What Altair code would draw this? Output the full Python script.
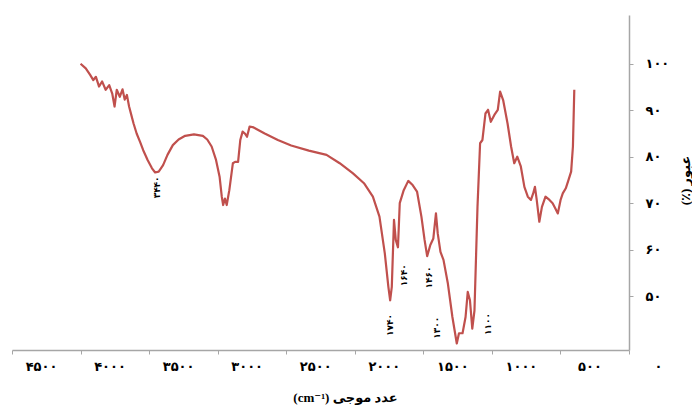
import altair as alt
import pandas as pd

# FT-IR transmittance spectrum (wavenumber in cm^-1, transmittance in %)
wavenumber = [
    4000, 3962, 3930, 3907, 3888, 3865, 3843, 3817, 3791, 3769, 3752, 3736,
    3714, 3694, 3678, 3662, 3646, 3630, 3614, 3591, 3566, 3543, 3511, 3479,
    3456, 3430, 3398, 3366, 3327, 3285, 3237, 3173, 3108, 3076, 3044, 3012,
    2986, 2970, 2960, 2947, 2934, 2915, 2889, 2873, 2851, 2835, 2818, 2802,
    2786, 2767, 2738, 2657, 2561, 2464, 2335, 2206, 2110, 2013, 1933, 1868,
    1820, 1781, 1755, 1742, 1730, 1714, 1701, 1685, 1672, 1643, 1610, 1578,
    1546, 1514, 1491, 1472, 1449, 1427, 1408, 1395, 1375, 1353, 1321, 1288,
    1256, 1240, 1214, 1192, 1176, 1160, 1143, 1127, 1105, 1086, 1069, 1047,
    1028, 1008, 982, 957, 940, 918, 886, 860, 837, 815, 789, 763,
    738, 715, 699, 686, 673, 654, 635, 609, 580, 557, 538, 519,
    499, 483, 461, 441, 422, 409, 399,
]
transmittance = [
    100.0, 99.0, 97.6, 96.5, 97.2, 95.1, 96.2, 94.4, 95.4, 93.6, 90.8, 94.4,
    92.9, 94.5, 92.3, 93.3, 90.8, 89.0, 87.2, 85.0, 83.2, 81.4, 79.3, 77.5,
    76.6, 76.8, 78.2, 80.4, 82.5, 83.7, 84.5, 84.8, 84.5, 83.7, 82.2, 79.3,
    75.7, 71.4, 69.6, 71.0, 69.6, 72.8, 78.6, 78.9, 78.9, 83.6, 85.4, 85.0,
    84.3, 86.5, 86.3, 85.0, 83.6, 82.4, 81.3, 80.4, 78.6, 76.4, 74.3, 71.4,
    67.1, 59.2, 52.0, 49.1, 52.0, 66.4, 62.1, 60.5, 70.0, 72.8, 74.8, 73.9,
    72.5, 67.1, 62.1, 58.6, 61.0, 62.4, 67.8, 63.5, 59.5, 57.8, 52.7, 45.5,
    39.8, 42.0, 42.0, 45.5, 50.9, 49.1, 43.0, 46.9, 69.2, 82.9, 83.6, 89.3,
    90.1, 87.5, 89.0, 90.1, 94.0, 92.2, 87.2, 82.2, 78.6, 80.0, 77.9, 73.5,
    71.4, 70.7, 72.1, 73.5, 70.7, 66.0, 69.2, 71.4, 70.7, 70.0, 68.9, 67.8,
    70.7, 72.1, 73.2, 75.0, 76.8, 82.2, 94.4,
]

# Annotated absorption bands and the transmittance level where each label sits
peak_wavenumbers = [3440, 1740, 1640, 1460, 1300, 1100]
peak_label_levels = [73.4, 43.8, 54.5, 54.0, 43.2, 44.0]

x_ticks = [4500, 4000, 3500, 3000, 2500, 2000, 1500, 1000, 500, 0]
y_ticks = [50, 60, 70, 80, 90, 100]

PERSIAN = str.maketrans("0123456789", "۰۱۲۳۴۵۶۷۸۹")
LATIN_DIGITS = "0123456789"
PERSIAN_DIGITS = "۰۱۲۳۴۵۶۷۸۹"


def persian_label_expr():
    expr = "'' + datum.value"
    for d, p in zip(LATIN_DIGITS, PERSIAN_DIGITS):
        expr = f"replace({expr}, regexp('{d}', 'g'), '{p}')"
    return expr


spectrum = pd.DataFrame({"wn": wavenumber, "t": transmittance})
peaks = pd.DataFrame({
    "wn": peak_wavenumbers,
    "t": peak_label_levels,
    "label": [str(v).translate(PERSIAN) for v in peak_wavenumbers],
})

LINE_COLOR = "#c0504d"
AXIS_COLOR = "#a6a6a6"
DIGIT_FONT = "DejaVu Sans"
TITLE_FONT = "Liberation Serif, DejaVu Sans"

x_scale = alt.Scale(domain=[0, 4500], reverse=True, nice=False, zero=False)
y_scale = alt.Scale(domain=[38.4, 110.5], nice=False, zero=False)

x_axis = alt.Axis(
    values=x_ticks,
    labelExpr=persian_label_expr(),
    title="(cm⁻¹) عدد موجی",
    grid=False,
    domainColor=AXIS_COLOR,
    domainWidth=1.5,
    tickColor=AXIS_COLOR,
    tickSize=4,
    labelFont=DIGIT_FONT,
    labelFontSize=13,
    labelFontWeight="bold",
    labelColor="#000000",
    labelOffset=29,
    labelPadding=6,
    labelFlush=False,
    labelOverlap=False,
    titleFont=TITLE_FONT,
    titleFontSize=13,
    titleFontWeight="bold",
    titleColor="#000000",
    titleX=333,
    titleY=47,
    titleAlign="center",
    titleBaseline="middle",
)

y_axis = alt.Axis(
    orient="right",
    values=y_ticks,
    labelExpr=persian_label_expr(),
    title="(٪) عبور",
    grid=False,
    domainColor=AXIS_COLOR,
    domainWidth=1.5,
    tickColor=AXIS_COLOR,
    tickSize=4,
    labelFont=DIGIT_FONT,
    labelFontSize=13,
    labelFontWeight="bold",
    labelColor="#000000",
    labelAlign="left",
    labelPadding=12,
    titleFont=TITLE_FONT,
    titleFontSize=13,
    titleFontWeight="bold",
    titleColor="#000000",
    titleAngle=270,
    titleX=56,
    titleY=165,
    titleAlign="center",
    titleBaseline="middle",
)

line = alt.Chart(spectrum).mark_line(
    color=LINE_COLOR, strokeWidth=2.2, strokeJoin="round"
).encode(
    x=alt.X("wn:Q", scale=x_scale, axis=x_axis),
    y=alt.Y("t:Q", scale=y_scale, axis=y_axis),
)


def peak_text(shift, keep):
    # Text is turned 270°, so dy moves it sideways on screen
    return alt.Chart(peaks).transform_filter(
        alt.FieldOneOfPredicate(field="wn", oneOf=keep)
    ).mark_text(
        angle=270,
        font=DIGIT_FONT,
        fontSize=9,
        fontWeight="bold",
        color="#000000",
        dy=shift,
    ).encode(
        x=alt.X("wn:Q", scale=x_scale),
        y=alt.Y("t:Q", scale=y_scale),
        text="label:N",
    )


labels_main = peak_text(0, [3440, 1740, 1640, 1460])
labels_left = peak_text(-14, [1300])
labels_right = peak_text(10, [1100])

chart = alt.layer(line, labels_main, labels_left, labels_right).properties(
    width=617,
    height=335,
    autosize=alt.AutoSizeParams(type="none"),
    padding={"left": 12, "top": 15, "right": 63, "bottom": 57},
    background="#ffffff",
).configure_view(stroke=None)

chart.save("out.html", embed_options={"renderer": "svg", "actions": False})
